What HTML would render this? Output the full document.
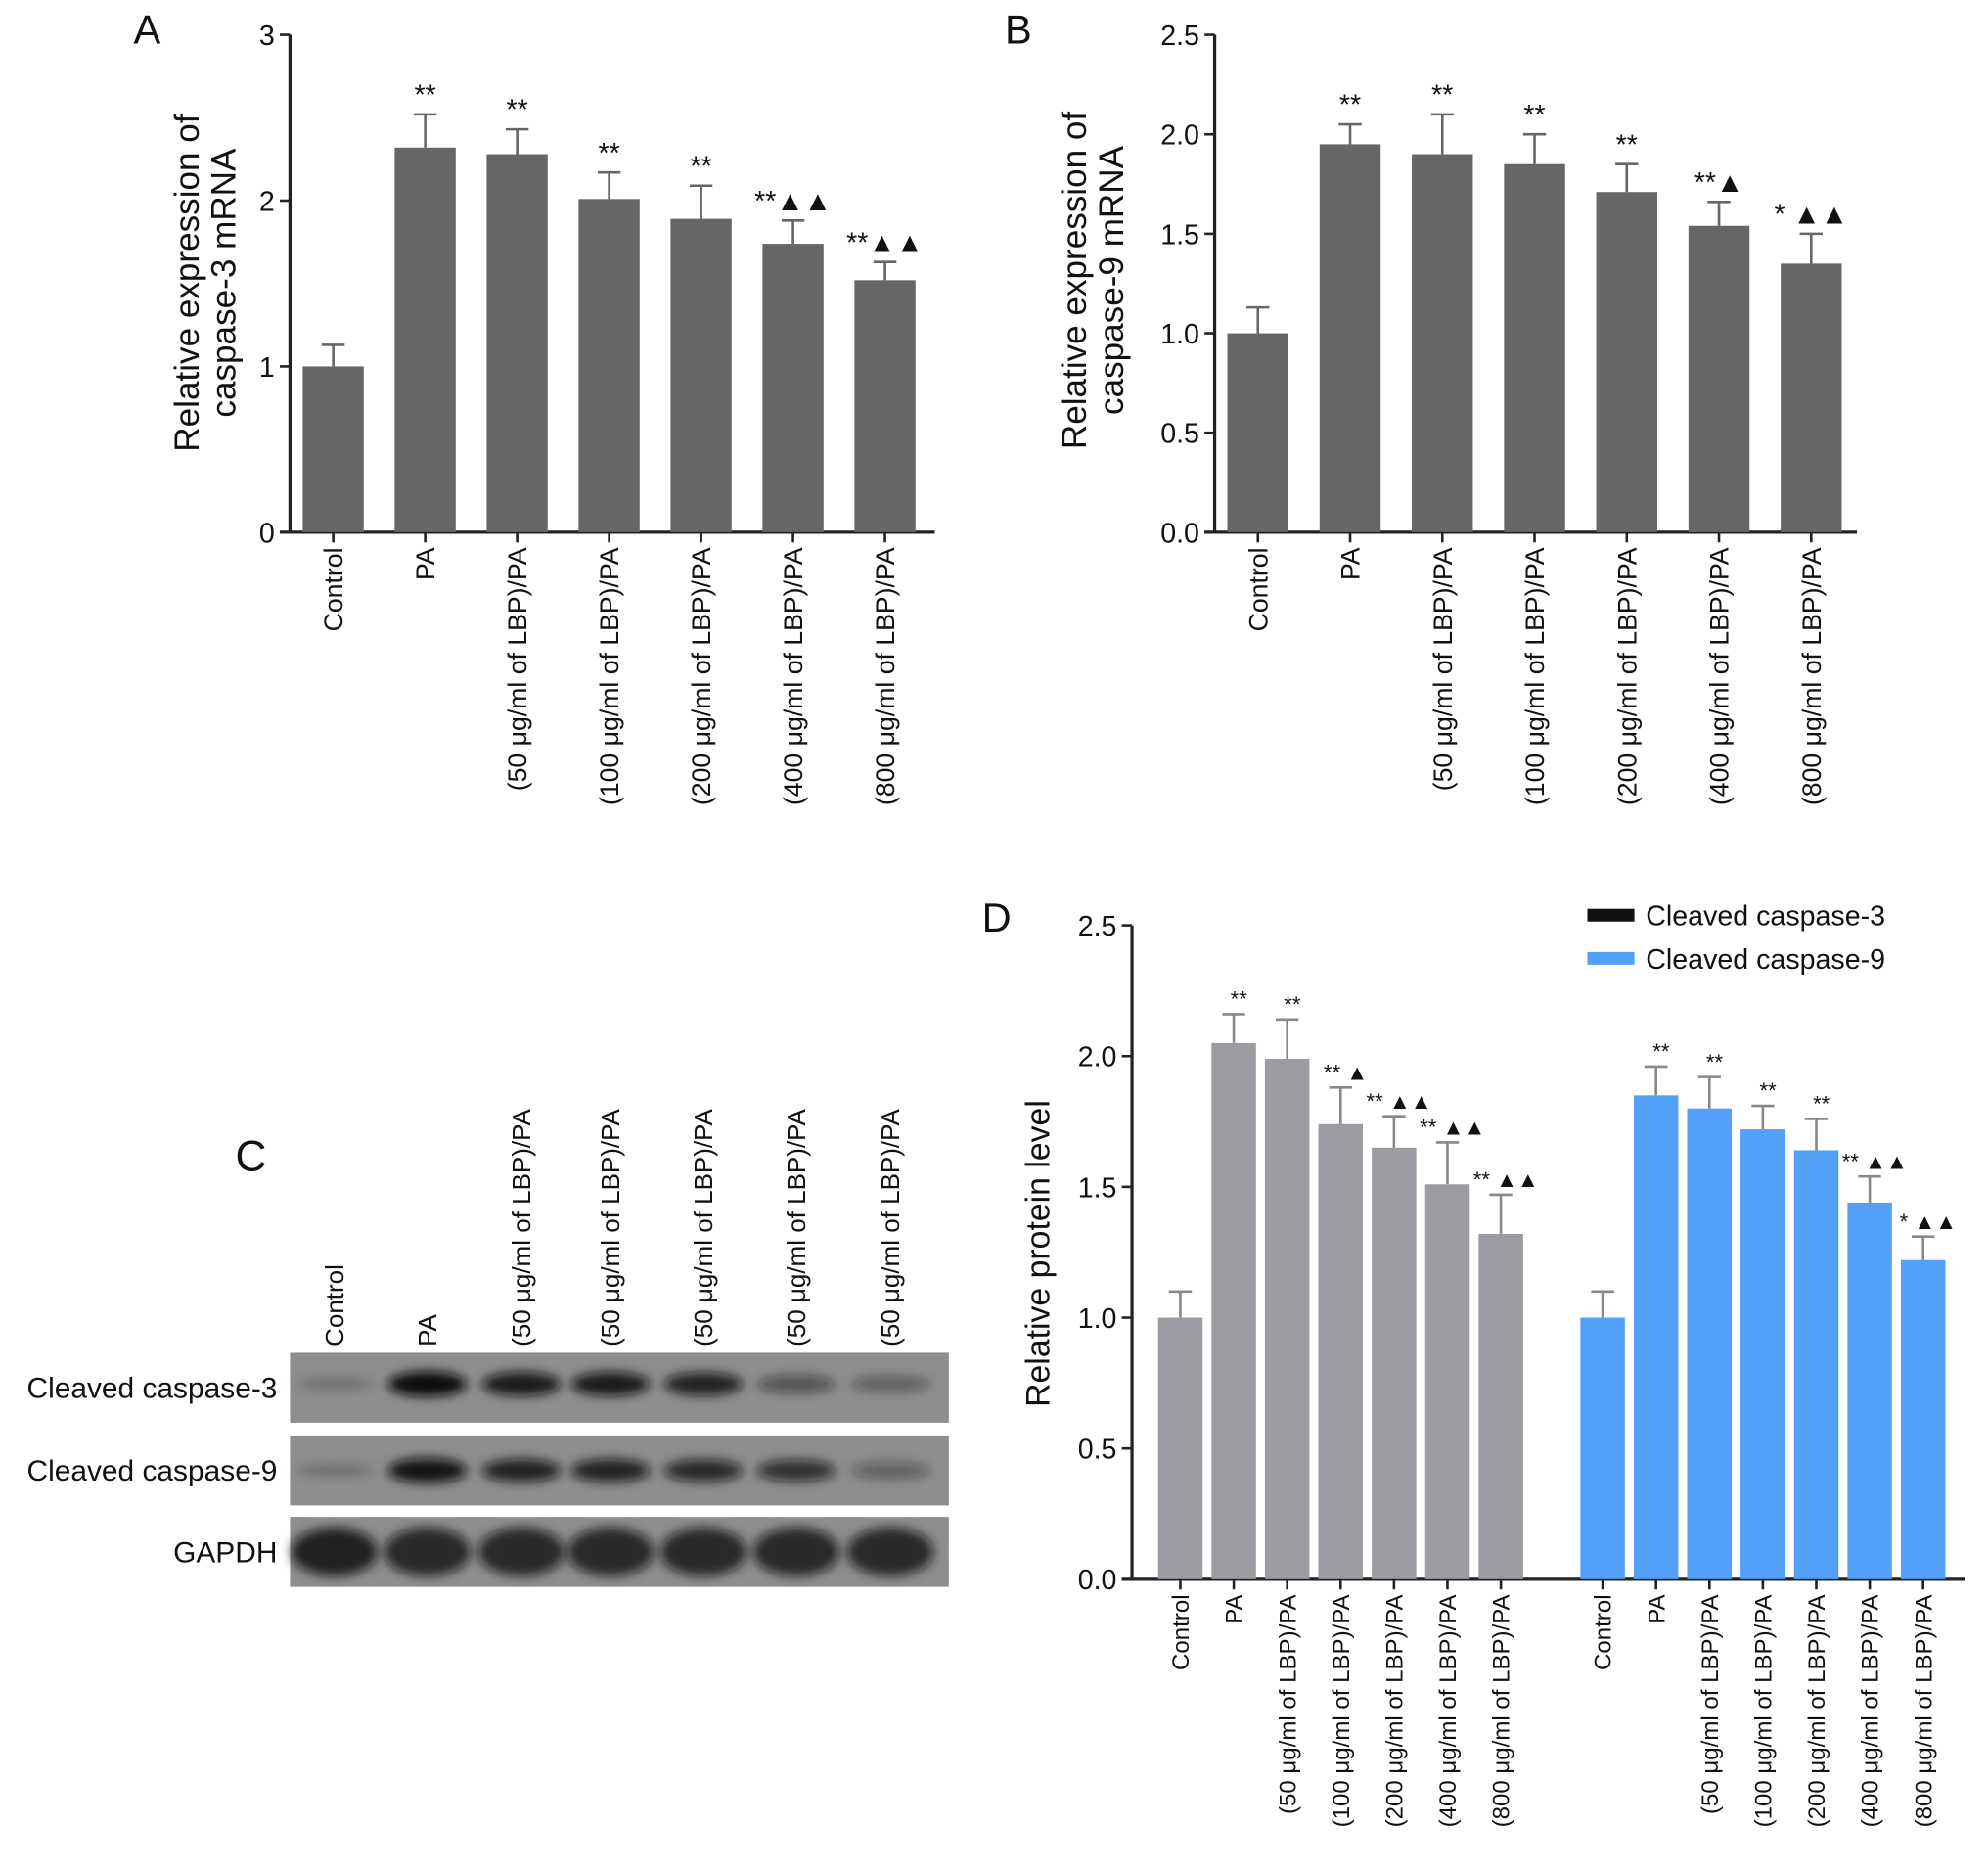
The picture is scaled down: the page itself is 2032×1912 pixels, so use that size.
<!DOCTYPE html>
<html><head><meta charset="utf-8"><style>
html,body{margin:0;padding:0;background:#fff}
svg{display:block}
text{font-family:"Liberation Sans",Arial,sans-serif;fill:#111}
</style></head><body>
<svg id="fig" width="2032" height="1912" viewBox="0 0 1563 1470" xmlns="http://www.w3.org/2000/svg">
<defs><filter id="blur" x="-30%" y="-60%" width="160%" height="220%"><feGaussianBlur stdDeviation="4"/></filter></defs>
<g id="root"></g>
</svg>
<script>
const catsAB = ["Control","PA","(50 μg/ml of LBP)/PA","(100 μg/ml of LBP)/PA","(200 μg/ml of LBP)/PA","(400 μg/ml of LBP)/PA","(800 μg/ml of LBP)/PA"];
const valsA = [1.0,2.32,2.28,2.01,1.89,1.74,1.52];
const errA = [0.13,0.20,0.15,0.16,0.20,0.14,0.11];
const annA = ["","**","**","**","**","**▲▲","**▲▲"];
const ticksA = [0,1,2,3];
const tickLabelsA = ["0","1","2","3"];
const valsB = [1.0,1.95,1.90,1.85,1.71,1.54,1.35];
const errB = [0.13,0.10,0.20,0.15,0.14,0.12,0.15];
const annB = ["","**","**","**","**","**▲","* ▲▲"];
const ticksB = [0,0.5,1,1.5,2,2.5];
const tickLabelsB = ["0.0","0.5","1.0","1.5","2.0","2.5"];
const valsD3 = [1.0,2.05,1.99,1.74,1.65,1.51,1.32];
const errD3 = [0.10,0.11,0.15,0.14,0.12,0.16,0.15];
const annD3 = ["","**","**","** ▲","** ▲▲","** ▲▲","** ▲▲"];
const valsD9 = [1.0,1.85,1.80,1.72,1.64,1.44,1.22];
const errD9 = [0.10,0.11,0.12,0.09,0.12,0.10,0.09];
const annD9 = ["","**","**","**","**","** ▲▲","* ▲▲"];
const ticksD = [0,0.5,1,1.5,2,2.5];
const tickLabelsD = ["0.0","0.5","1.0","1.5","2.0","2.5"];
const blotLanes = ["Control","PA","(50 μg/ml of LBP)/PA","(50 μg/ml of LBP)/PA","(50 μg/ml of LBP)/PA","(50 μg/ml of LBP)/PA","(50 μg/ml of LBP)/PA"];
const blotRows = ["Cleaved caspase-3","Cleaved caspase-9","GAPDH"];
const bandC3 = [0.2,1.0,0.9,0.9,0.85,0.5,0.4];
const bandC9 = [0.2,0.95,0.85,0.85,0.8,0.75,0.4];
const bandG = [0.85,0.8,0.8,0.8,0.8,0.8,0.8];

const NS="http://www.w3.org/2000/svg";
const root=document.getElementById('root');
function el(tag,attrs,parent){const e=document.createElementNS(NS,tag);for(const k in attrs)e.setAttribute(k,attrs[k]);(parent||root).appendChild(e);return e;}
function txt(s,attrs,parent){const t=el('text',attrs,parent);t.textContent=s;return t;}

function panel(o){
  const g=el('g',{});
  
  
  const y=v=>o.y0-(v/o.max)*(o.y0-o.yTop);
  const ya=el('line',{x1:o.ax,y1:o.yTop,x2:o.ax,y2:o.y0+1,stroke:'#222','stroke-width':2.5},g);
  
  const xa=el('line',{x1:o.ax-8,y1:o.y0,x2:o.axEnd,y2:o.y0,stroke:'#222','stroke-width':2.5},g);
  
  o.ticks.forEach((t,i)=>{
    el('line',{x1:o.ax-8,y1:y(t),x2:o.ax,y2:y(t),stroke:'#222','stroke-width':2},g);
    const tl=txt(o.tickLabels[i],{x:o.ax-12,y:y(t)+8,'text-anchor':'end','font-size':o.tickFs},g);
    
  });
  o.series.forEach(s=>{
    s.vals.forEach((v,i)=>{
      const cx=s.x0+i*o.step;
      const top=y(v), et=y(v+s.err[i]);
      el('line',{x1:cx,y1:top,x2:cx,y2:et,stroke:s.errColor,'stroke-width':2},g);
      el('line',{x1:cx-9,y1:et,x2:cx+9,y2:et,stroke:s.errColor,'stroke-width':2},g);
      const b=el('rect',{x:cx-o.bw/2,y:top,width:o.bw,height:o.y0-top,fill:s.color},g);
      
      
      el('line',{x1:cx,y1:o.y0,x2:cx,y2:o.y0+8,stroke:'#222','stroke-width':2},g);
      if(s.ann[i]){
        const a=txt(s.ann[i],{x:cx+(o.annDx||0),y:et-o.annGap,'text-anchor':'middle','font-size':o.annFs},g);
        
      }
      const lx=cx+o.catFs*0.36, ly=o.y0+12;
      const c=txt(o.cats[i],{x:lx,y:ly,'text-anchor':'end','font-size':o.catFs,transform:`rotate(-90 ${lx} ${ly})`},g);
      
    });
  });
  o.title.forEach((line,i)=>{
    const tx=o.titleX+i*o.titleLh, ty=o.titleY;
    const t=txt(line,{x:tx,y:ty,'text-anchor':'middle','font-size':o.titleFs,transform:`rotate(-90 ${tx} ${ty})`},g);
    
  });
  const L=txt(o.letter,{x:o.lx,y:o.ly,'font-size':32},g);
  
}

panel({name:'panel-a-chart',letter:'A',lx:105,ly:34,ax:228,axEnd:735,yTop:27,y0:418,max:3,ticks:ticksA,tickLabels:tickLabelsA,tickFs:22,
  step:72.3,bw:48,cats:catsAB,catFs:20.5,annFs:22,annGap:8,
  series:[{key:'caspase3',vals:valsA,err:errA,ann:annA,x0:262,color:'#666666',errColor:'#666'}],
  title:['Relative expression of','caspase-3 mRNA'],titleX:156,titleLh:29,titleY:222,titleFs:27});
panel({name:'panel-b-chart',letter:'B',lx:790,ly:34,ax:955,axEnd:1460,yTop:27,y0:418,max:2.5,ticks:ticksB,tickLabels:tickLabelsB,tickFs:22,
  step:72.5,bw:48,cats:catsAB,catFs:20.5,annFs:22,annGap:8,
  series:[{key:'caspase9',vals:valsB,err:errB,ann:annB,x0:989,color:'#666666',errColor:'#666'}],
  title:['Relative expression of','caspase-9 mRNA'],titleX:854,titleLh:29,titleY:220,titleFs:27});
panel({name:'panel-d-chart',letter:'D',lx:772,ly:732,ax:890,axEnd:1545,yTop:727,y0:1241,max:2.5,ticks:ticksD,tickLabels:tickLabelsD,tickFs:22,
  step:42,bw:35,cats:catsAB,catFs:18.5,annFs:17,annGap:6,annDx:4,
  series:[{key:'cleaved-caspase3',vals:valsD3,err:errD3,ann:annD3,x0:928,color:'#9b9ca1',errColor:'#888'},
          {key:'cleaved-caspase9',vals:valsD9,err:errD9,ann:annD9,x0:1260,color:'#52a0f8',errColor:'#888'}],
  title:['Relative protein level'],titleX:825,titleLh:0,titleY:985,titleFs:26});
[['Cleaved caspase-3','#111',719],['Cleaved caspase-9','#52a0f8',753]].forEach(([l,c,yy],i)=>{
  const r=el('rect',{x:1248,y:yy-5,width:37,height:10,fill:c});
  
  const t=txt(l,{x:1294,y:yy+8,'font-size':22});
  
});

const gc=el('g',{});


const Cl=txt('C',{x:185,y:920,'font-size':34},gc);

const laneX=[263,336,410,480,553,626,700];
blotLanes.forEach((l,i)=>{
  const lx=laneX[i]+7, ly=1058;
  const t=txt(l,{x:lx,y:ly,'font-size':20,transform:`rotate(-90 ${lx} ${ly})`},gc);
  t.setAttribute('text-anchor','start');
  
});
const rowY=[1063,1128,1192], rowH=[55,55,55];
const rowBands=[bandC3,bandC9,bandG];
blotRows.forEach((r,ri)=>{
  const box=el('rect',{x:228,y:rowY[ri],width:518,height:rowH[ri],fill:'#8e8e8e'},gc);
  
  rowBands[ri].forEach((a,i)=>{
    const isG=ri===2;
    const b=el('ellipse',{cx:laneX[i],cy:rowY[ri]+rowH[ri]/2-(ri===0?3:0),rx:isG?34:31,ry:isG?19:(4+a*6),fill:'#111','fill-opacity':a,filter:'url(#blur)'},gc);
    
  });
  const t=txt(r,{x:218,y:rowY[ri]+rowH[ri]/2+8,'text-anchor':'end','font-size':23},gc);
  
});
</script>
</body></html>
